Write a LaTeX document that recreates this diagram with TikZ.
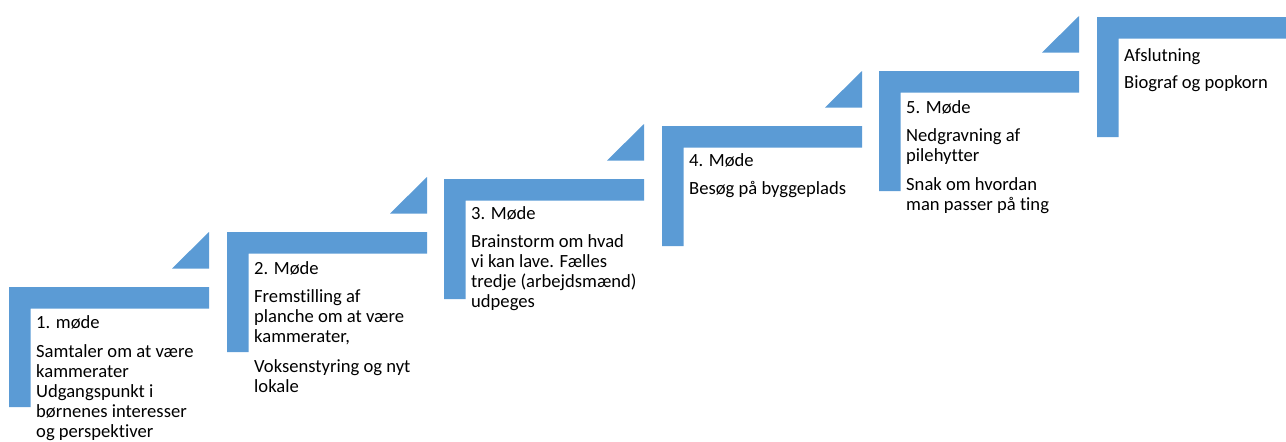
\documentclass[tikz,border=0pt]{standalone}
\usepackage{fontspec}
\setmainfont[Ligatures={NoCommon}]{Carlito}
\definecolor{stepblue}{HTML}{5B9BD5}
\begin{document}
\begin{tikzpicture}[x=1pt,y=-1pt,
  band/.style={fill=stepblue},
  lbl/.style={anchor=base west, inner sep=0pt, font=\fontsize{18.6}{20}\selectfont}]
\useasboundingbox (0,0) rectangle (1286,442);
% L-shaped steps with triangles
\foreach \l/\t in {9/287, 227/232, 444/179, 662/126, 879/71}{
  \fill[band] (\l,\t) -- ({\l+200},\t) -- ({\l+200},{\t+21.5}) -- ({\l+21.5},{\t+21.5})
     -- ({\l+21.5},{\t+120}) -- (\l,{\t+120}) -- cycle;
  \fill[band] ({\l+200},{\t-18.5}) -- ({\l+200},{\t-55}) -- ({\l+163},{\t-18.5}) -- cycle;
}
\fill[band] (1097,17) -- (1286,17) -- (1286,38.5) -- (1118.5,38.5) -- (1118.5,137) -- (1097,137) -- cycle;
% step 1
\node[lbl] (s1a) at (36,328) {1. møde};
\node[lbl] (s1b) at (36,357) {Samtaler om at være};
\node[lbl] (s1c) at (36,377) {kammerater};
\node[lbl] (s1d) at (36,397) {Udgangspunkt i};
\node[lbl] (s1e) at (36,417) {børnenes interesser};
\node[lbl] (s1f) at (36,437) {og perspektiver};
% step 2
\node[lbl] (s2a) at (254,274) {2. Møde};
\node[lbl] (s2b) at (254,302) {Fremstilling af};
\node[lbl] (s2c) at (254,322) {planche om at være};
\node[lbl] (s2d) at (254,342) {kammerater,};
\node[lbl] (s2e) at (254,372) {Voksenstyring og nyt};
\node[lbl] (s2f) at (254,392) {lokale};
% step 3
\node[lbl] (s3a) at (471,219) {3. Møde};
\node[lbl] (s3b) at (471,247) {Brainstorm om hvad};
\node[lbl] (s3c) at (471,267) {vi kan lave. Fælles};
\node[lbl] (s3d) at (471,287) {tredje (arbejdsmænd)};
\node[lbl] (s3e) at (471,307) {udpeges};
% step 4
\node[lbl] (s4a) at (689,166) {4. Møde};
\node[lbl] (s4b) at (689,194) {Besøg på byggeplads};
% step 5
\node[lbl] (s5a) at (906,113) {5. Møde};
\node[lbl] (s5b) at (906,141) {Nedgravning af};
\node[lbl] (s5c) at (906,161) {pilehytter};
\node[lbl] (s5d) at (906,190) {Snak om hvordan};
\node[lbl] (s5e) at (906,210) {man passer på ting};
% step 6
\node[lbl] (s6a) at (1124,61) {Afslutning};
\node[lbl] (s6b) at (1124,88) {Biograf og popkorn};
\end{tikzpicture}
\end{document}
